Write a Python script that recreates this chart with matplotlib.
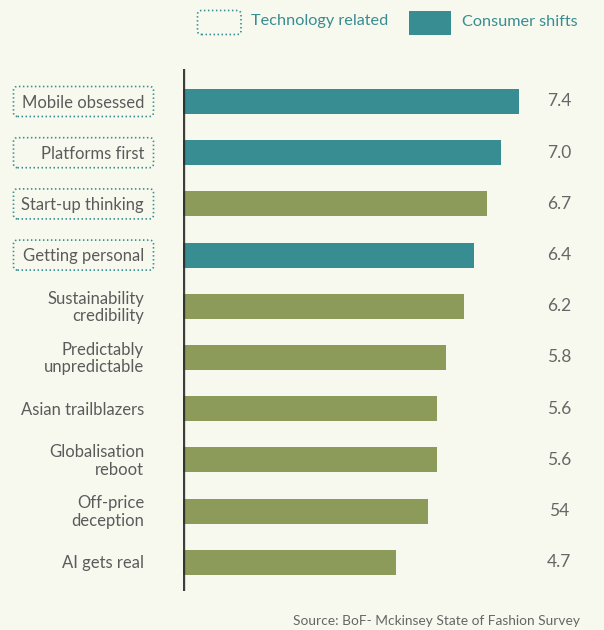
import matplotlib
matplotlib.use("Agg")
import matplotlib.pyplot as plt
from matplotlib.patches import FancyBboxPatch, Rectangle
from matplotlib.transforms import IdentityTransform, blended_transform_factory

# ---------------- data ----------------
categories = ["Mobile obsessed", "Platforms first", "Start-up thinking", "Getting personal",
              "Sustainability\ncredibility", "Predictably\nunpredictable", "Asian trailblazers",
              "Globalisation\nreboot", "Off-price\ndeception", "AI gets real"]
values = [7.4, 7.0, 6.7, 6.4, 6.2, 5.8, 5.6, 5.6, 5.4, 4.7]
value_labels = ["7.4", "7.0", "6.7", "6.4", "6.2", "5.8", "5.6", "5.6", "54", "4.7"]
groups = ["consumer", "consumer", "other", "consumer", "other", "other", "other", "other", "other", "other"]
tech_related = [True, True, True, True, False, False, False, False, False, False]
legend_labels = ["Technology related", "Consumer shifts"]
source_text = "Source: BoF- Mckinsey State of Fashion Survey"

# ---------------- style ----------------
BG = "#F8F9EE"
TEAL = "#378D91"
OLIVE = "#8D9B5A"
TXT = "#5B5B5B"
FONT = "Lato"

W, H = 604, 630
fig = plt.figure(figsize=(W / 100, H / 100), dpi=100, facecolor=BG)

def fx(px):
    return px / W

def fy(py):  # py measured from top
    return 1 - py / H

ax_left, ax_top, ax_bottom, ax_right = 183, 69, 591, 604
ax = fig.add_axes([fx(ax_left), fy(ax_bottom), (ax_right - ax_left) / W, (ax_bottom - ax_top) / H])
ax.set_facecolor("none")

px_per_unit = 45.4
ax.set_xlim(0, (ax_right - ax_left) / px_per_unit)
spacing = 51.2
first_center = 101.5
ax.set_ylim((ax_bottom - first_center) / spacing, -(first_center - ax_top) / spacing)

ypos = list(range(len(categories)))
colors = [TEAL if g == "consumer" else OLIVE for g in groups]
ax.barh(ypos, values, height=0.49, color=colors, zorder=2)
ax.axvline(0, color="#2a2a2a", lw=2.4, alpha=0.9, zorder=3)

for s in ax.spines.values():
    s.set_visible(False)
ax.set_xticks([])
ax.set_yticks([])

# value labels
val_x = (559 - ax_left) / px_per_unit
for y, lab in zip(ypos, value_labels):
    ax.text(val_x, y, lab, ha="center", va="center", fontsize=12.5, color="#666666",
            family=FONT)

# category labels
trans = blended_transform_factory(fig.transFigure, ax.transData)
for y, cat, tech in zip(ypos, categories, tech_related):
    ax.text(fx(144), y + 0.02, cat, transform=trans, ha="right", va="center",
            fontsize=12, color=TXT, family=FONT, linespacing=1.1)

fig.canvas.draw()

def add_dotted_box(x0, y0_top, w, h):
    # pixel coords with y from top
    x_disp = x0
    y_disp = H - (y0_top + h)
    p = FancyBboxPatch((x_disp, y_disp), w, h,
                       boxstyle="round,pad=0,rounding_size=4",
                       transform=IdentityTransform(), facecolor="none",
                       edgecolor=TEAL, lw=1.2, linestyle=(0, (0.9, 1.5)))
    fig.add_artist(p)

for y, tech in zip(ypos, tech_related):
    if tech:
        ydisp = ax.transData.transform((0, y))[1]
        cy = H - ydisp
        add_dotted_box(13.5, cy - 15, 140, 30)

# legend
add_dotted_box(197.5, 10.5, 43.5, 24)
fig.add_artist(Rectangle((409, H - 35), 42, 24, transform=IdentityTransform(),
                         facecolor=TEAL, edgecolor="none"))
fig.text(fx(251), fy(21.5), legend_labels[0], ha="left", va="center", fontsize=11.7,
         color=TEAL, family=FONT)
fig.text(fx(462), fy(21.5), legend_labels[1], ha="left", va="center", fontsize=11.7,
         color=TEAL, family=FONT)

# source
fig.text(fx(580), fy(621), source_text, ha="right", va="center", fontsize=9.95,
         color="#666666", family=FONT)

fig.savefig("out.png", dpi=100, facecolor=BG)
